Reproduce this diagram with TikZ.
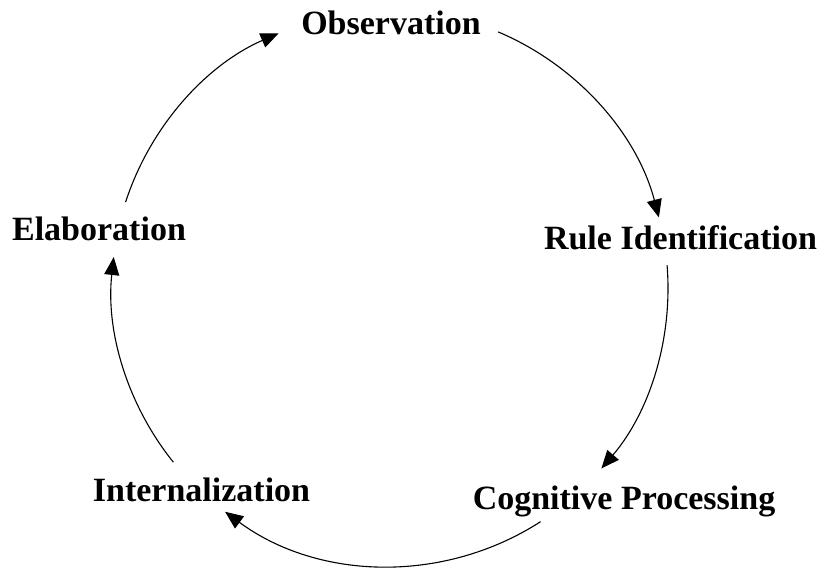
\documentclass[tikz,border=0pt]{standalone}
\usepackage{fontspec}
\setmainfont{Liberation Serif}
\usetikzlibrary{arrows.meta}

\tikzset{
  stage/.style={font=\fontsize{34}{40}\selectfont\bfseries, anchor=base, inner sep=0pt},
  cycarrow/.style={line width=1.1pt, -{Triangle[length=18pt, width=15pt]}}
}

\begin{document}
\begin{tikzpicture}[x=1pt, y=1pt]
  \useasboundingbox (0,0) rectangle (821,567);
  \coordinate (ctr) at (390,279);

  % stages of the cycle
  \node[stage] (obs)  at (391,532)   {Observation};
  \node[stage] (rule) at (680.5,317) {Rule Identification};
  \node[stage] (cog)  at (624,57)    {Cognitive Processing};
  \node[stage] (intl) at (201.5,65)  {Internalization};
  \node[stage] (elab) at (99,326)    {Elaboration};

  % arcs of the circle, clockwise
  \foreach \from / \a / \b in {elab/162/113.6, obs/67.1/14.7, rule/4.7/-40.5, cog/-57.2/-126.4, intl/218.8/173.6} {
    \coordinate (\from-out) at ([shift={(\a:278)}]ctr);
    \draw[cycarrow] (\from-out) arc[start angle=\a, end angle=\b, radius=278];
  };
\end{tikzpicture}
\end{document}
